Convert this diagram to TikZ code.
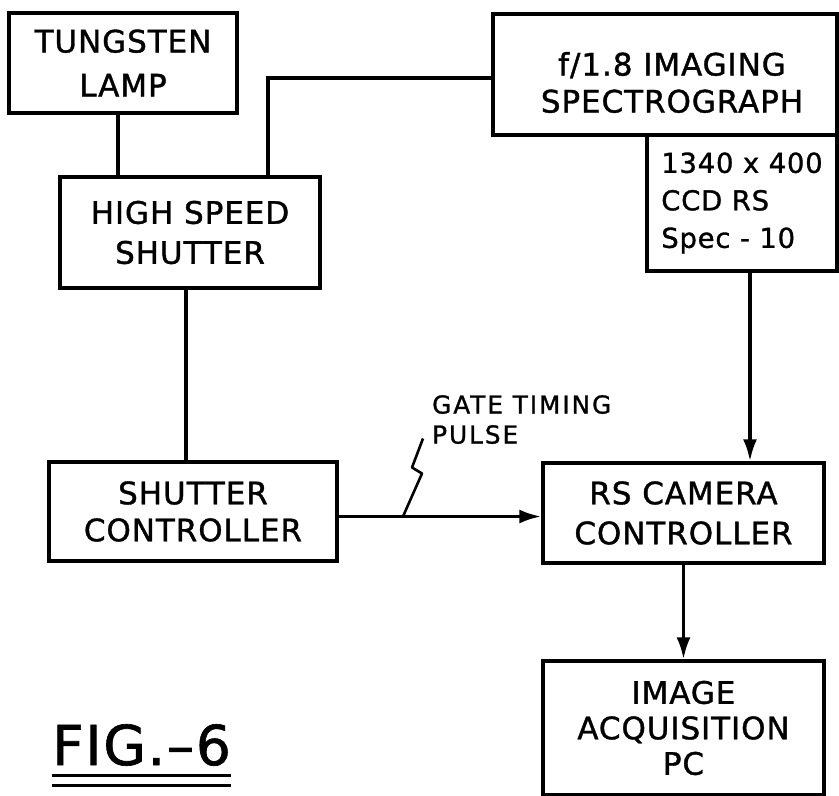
\documentclass[tikz,border=0pt]{standalone}
\usepackage{fontspec}
\setmainfont{DejaVu Sans}[LetterSpace=3,FakeBold=1.2]
\usetikzlibrary{arrows.meta,calc}
\begin{document}
\begin{tikzpicture}[x=1pt,y=-1pt,
  box/.style={draw,line width=3.4pt,inner sep=0pt,align=center},
  conn/.style={line width=3.4pt},
  arr/.style={conn,-{Latex[length=22pt,width=14pt]}},
  big/.style={font=\fontsize{31}{#1}\selectfont},
  mid/.style={font=\fontsize{27.4}{#1}\selectfont},
]
\useasboundingbox (0,0) rectangle (839,796);
\node[box,big=44,minimum width=228pt,minimum height=100pt] (lamp) at (123,63) {TUNGSTEN\\LAMP};
\node[box,big=40,minimum width=260pt,minimum height=111pt] (hss) at (190,232.5) {HIGH SPEED\\SHUTTER};
\node[box,minimum width=344pt,minimum height=121pt] (spec) at (665,74.5) {};
\node[big=37,align=center,inner sep=0pt] (specT) at (672,82.5) {f/1.8 IMAGING\\SPECTROGRAPH};
\node[box,mid=37.5,align=left,minimum width=190pt,minimum height=136pt] (ccd) at (742,203) {1340 x 400\\CCD RS\\Spec - 10};
\node[box,big=37,minimum width=288pt,minimum height=99pt] (sc) at (193,511.5) {SHUTTER\\CONTROLLER};
\node[box,big=40,minimum width=281pt,minimum height=100pt] (rs) at (683.5,513) {RS CAMERA\\CONTROLLER};
\node[box,big=35.5,minimum width=281pt,minimum height=134pt] (pc) at (683.5,728) {IMAGE\\ACQUISITION\\PC};
\node[font=\fontsize{24.7}{30}\selectfont\addfontfeature{LetterSpace=8},align=left,anchor=north west,inner sep=0pt] (gate) at (432,395) {GATE TIMING\\PULSE};
\node[font=\fontsize{55}{60}\selectfont,anchor=base west,inner sep=0pt] (fig) at (52,765) {FIG.–6};

\draw[conn] ([xshift=-5pt]lamp.south) -- ([xshift=-5pt]lamp.south |- hss.north);
\draw[conn] ([xshift=78pt]hss.north) |- ([yshift=-3.5pt]spec.west);
\draw[conn] ([xshift=-4pt]hss.south) -- ([xshift=-4pt]hss.south |- sc.north);
\draw[arr] ([yshift=-5pt]sc.east) -- ([yshift=-5pt]sc.east -| rs.west);
\draw[arr] ([xshift=8pt]ccd.south) -- ([xshift=8pt]ccd.south |- rs.north);
\draw[arr] (rs.south) -- (pc.north);
\coordinate (gp) at (403,516.5);
\draw[conn,line width=2.6pt,line join=round] (gp) -- ++(19,-43) -- ++(-10,-6) -- ++(11,-29);
\draw[conn,line width=3pt] ([yshift=-10pt]fig.base west) -- ([yshift=-10pt]fig.base east);
\draw[conn,line width=3pt] ([yshift=-20pt]fig.base west) -- ([yshift=-20pt]fig.base east);
\end{tikzpicture}
\end{document}
